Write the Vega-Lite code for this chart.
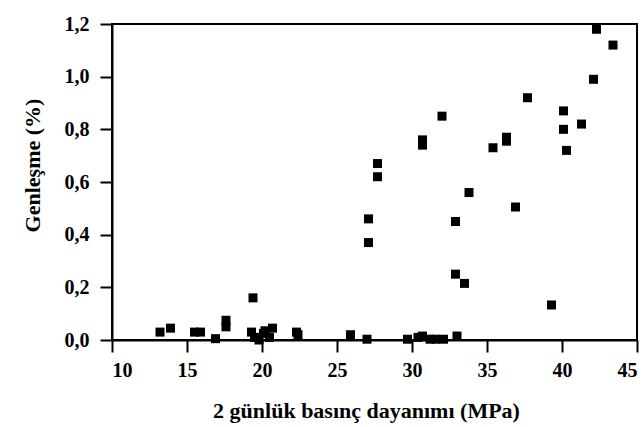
{
  "$schema": "https://vega.github.io/schema/vega-lite/v6.json",
  "width": 525,
  "height": 316,
  "autosize": {"type": "none"},
  "padding": {"left": 112, "top": 24, "right": 7, "bottom": 87},
  "background": "white",
  "config": {
    "view": {"stroke": "black", "strokeWidth": 2},
    "axis": {
      "grid": false,
      "domainColor": "black",
      "domainWidth": 2,
      "tickColor": "black",
      "tickWidth": 2,
      "tickSize": 12,
      "labelFont": "Liberation Serif",
      "labelFontWeight": "bold",
      "labelFontSize": 20,
      "labelColor": "black",
      "titleFont": "Liberation Serif",
      "titleFontWeight": "bold",
      "titleFontSize": 22,
      "titleColor": "black"
    }
  },
  "data": {
    "values": [
      {"strength": 13.2, "expansion": 0.03},
      {"strength": 13.9, "expansion": 0.045},
      {"strength": 15.5, "expansion": 0.03},
      {"strength": 15.9, "expansion": 0.03},
      {"strength": 16.9, "expansion": 0.005},
      {"strength": 17.6, "expansion": 0.075},
      {"strength": 17.6, "expansion": 0.05},
      {"strength": 19.4, "expansion": 0.16},
      {"strength": 19.3, "expansion": 0.03},
      {"strength": 19.5, "expansion": 0.01},
      {"strength": 19.8, "expansion": 0.0},
      {"strength": 20.1, "expansion": 0.025},
      {"strength": 20.5, "expansion": 0.01},
      {"strength": 20.7, "expansion": 0.045},
      {"strength": 20.2, "expansion": 0.035},
      {"strength": 22.3, "expansion": 0.03},
      {"strength": 22.4, "expansion": 0.02},
      {"strength": 25.9, "expansion": 0.02},
      {"strength": 27.0, "expansion": 0.003},
      {"strength": 29.7, "expansion": 0.003},
      {"strength": 30.4, "expansion": 0.01},
      {"strength": 30.7, "expansion": 0.015},
      {"strength": 31.2, "expansion": 0.003},
      {"strength": 31.6, "expansion": 0.003},
      {"strength": 32.1, "expansion": 0.003},
      {"strength": 33.0, "expansion": 0.015},
      {"strength": 27.1, "expansion": 0.46},
      {"strength": 27.1, "expansion": 0.37},
      {"strength": 27.7, "expansion": 0.67},
      {"strength": 27.7, "expansion": 0.62},
      {"strength": 30.7, "expansion": 0.76},
      {"strength": 30.7, "expansion": 0.74},
      {"strength": 32.0, "expansion": 0.85},
      {"strength": 32.9, "expansion": 0.45},
      {"strength": 32.9, "expansion": 0.25},
      {"strength": 33.5, "expansion": 0.215},
      {"strength": 33.8, "expansion": 0.56},
      {"strength": 35.4, "expansion": 0.73},
      {"strength": 36.3, "expansion": 0.77},
      {"strength": 36.3, "expansion": 0.755},
      {"strength": 36.9, "expansion": 0.505},
      {"strength": 37.7, "expansion": 0.92},
      {"strength": 39.3, "expansion": 0.133},
      {"strength": 40.1, "expansion": 0.87},
      {"strength": 40.1, "expansion": 0.8},
      {"strength": 40.3, "expansion": 0.72},
      {"strength": 41.3, "expansion": 0.82},
      {"strength": 42.1, "expansion": 0.99},
      {"strength": 42.3, "expansion": 1.18},
      {"strength": 43.4, "expansion": 1.12}
    ]
  },
  "mark": {"type": "square", "size": 81, "color": "black", "opacity": 1, "clip": false},
  "encoding": {
    "x": {
      "field": "strength",
      "type": "quantitative",
      "scale": {"domain": [10, 45], "nice": false, "zero": false},
      "axis": {
        "values": [10, 15, 20, 25, 30, 35, 40, 45],
        "title": "2 günlük basınç dayanımı (MPa)",
        "labelPadding": 8,
        "titleX": 254,
        "titleY": 77,
        "titleBaseline": "alphabetic"
      }
    },
    "y": {
      "field": "expansion",
      "type": "quantitative",
      "scale": {"domain": [0, 1.2], "nice": false},
      "axis": {
        "values": [0, 0.2, 0.4, 0.6, 0.8, 1.0, 1.2],
        "labelExpr": "replace(format(datum.value, '.1f'), '.', ',')",
        "labelPadding": 11,
        "title": "Genleşme (%)",
        "titleX": -80,
        "titleY": 141,
        "titleBaseline": "middle"
      }
    }
  }
}
